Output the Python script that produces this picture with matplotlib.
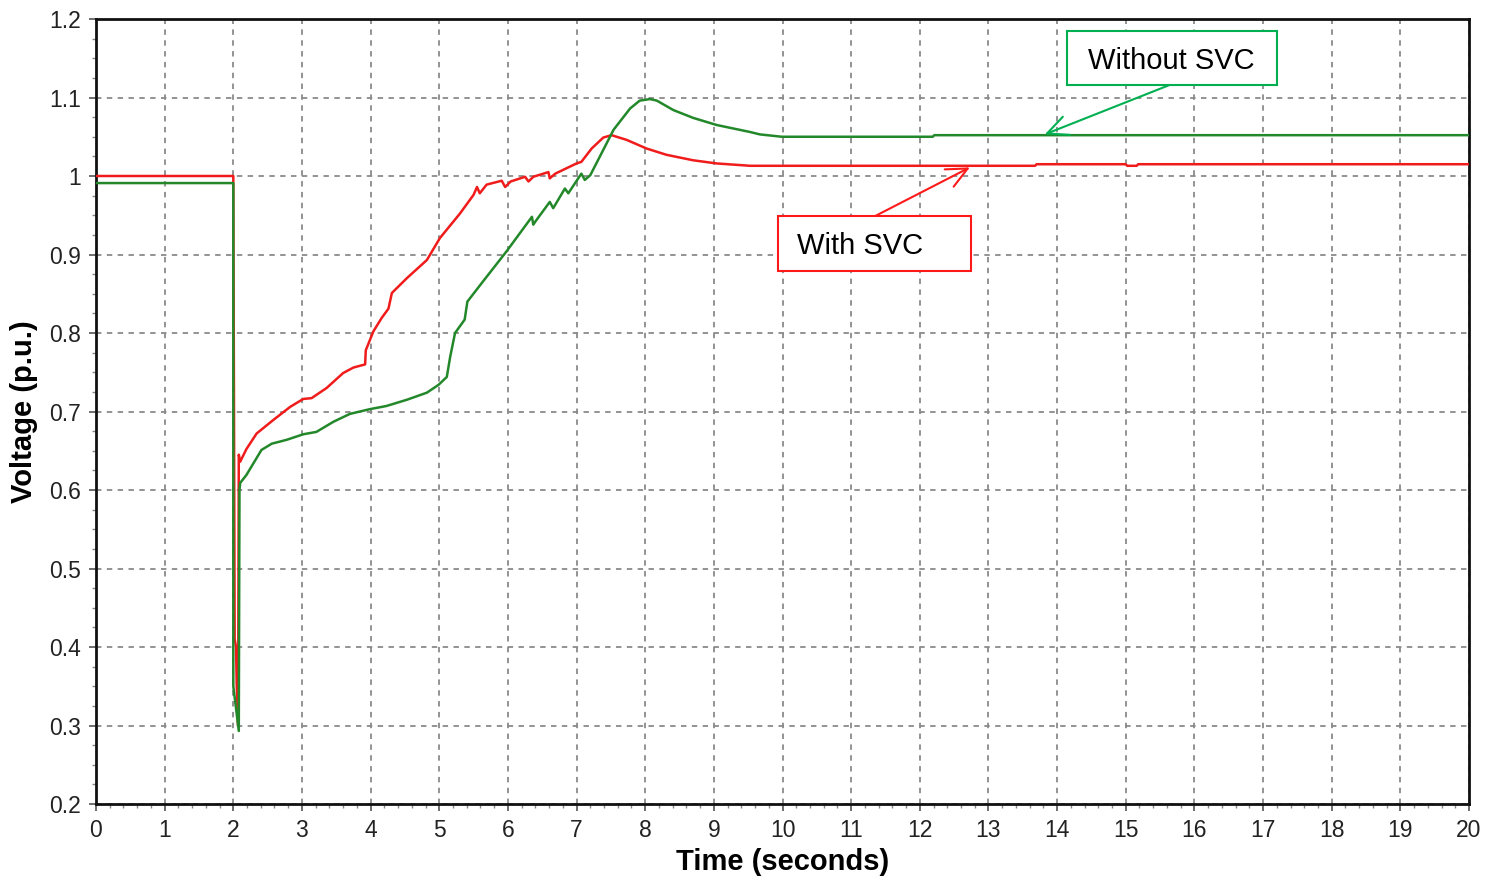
import numpy as np
import matplotlib.pyplot as plt
from matplotlib.patches import Rectangle
from matplotlib.ticker import MultipleLocator

plt.rcParams['font.family'] = ['Liberation Sans', 'DejaVu Sans']

# With SVC (red) - time in s, voltage in p.u.
t_with = [0, 2.0, 2.02, 2.04, 2.05, 2.06, 2.07, 2.08, 2.10, 2.19, 2.34, 2.58, 2.83,
          3.02, 3.14, 3.36, 3.60, 3.75, 3.92, 3.93, 4.04, 4.16, 4.26, 4.31, 4.53,
          4.82, 5.01, 5.30, 5.50, 5.55, 5.59, 5.69, 5.91, 5.96, 6.04, 6.25, 6.30,
          6.37, 6.59, 6.61, 6.69, 7.00, 7.07, 7.22, 7.39, 7.51, 7.73, 8.02, 8.31,
          8.70, 9.04, 9.53, 10.0, 13.68, 13.70, 15.0, 15.02, 15.16, 15.18, 20.0]
v_with = [1.0, 1.0, 0.41, 0.40, 0.35, 0.33, 0.30, 0.645, 0.636, 0.652, 0.672, 0.689, 0.706,
          0.716, 0.717, 0.730, 0.749, 0.756, 0.760, 0.778, 0.802, 0.819, 0.831, 0.851, 0.870,
          0.893, 0.921, 0.952, 0.976, 0.986, 0.978, 0.989, 0.994, 0.986, 0.993, 0.999, 0.993,
          0.999, 1.005, 0.997, 1.003, 1.016, 1.018, 1.035, 1.049, 1.052, 1.046, 1.035, 1.027,
          1.020, 1.016, 1.013, 1.013, 1.013, 1.015, 1.015, 1.013, 1.013, 1.015, 1.015]

# Without SVC (green)
t_without = [0, 2.0, 2.0, 2.08, 2.09, 2.10, 2.19, 2.41, 2.56, 2.78, 3.02, 3.21, 3.46,
             3.70, 3.99, 4.23, 4.53, 4.82, 4.99, 5.11, 5.16, 5.23, 5.37, 5.41, 5.64,
             5.98, 6.35, 6.37, 6.40, 6.61, 6.66, 6.83, 6.88, 7.07, 7.12, 7.20, 7.54,
             7.78, 7.92, 8.07, 8.17, 8.41, 8.70, 9.04, 9.53, 9.67, 9.99, 12.19, 12.21, 20.0]
v_without = [0.991, 0.991, 0.35, 0.293, 0.60, 0.609, 0.619, 0.651, 0.659, 0.664, 0.671, 0.674, 0.687,
             0.697, 0.703, 0.707, 0.715, 0.724, 0.734, 0.744, 0.770, 0.800, 0.817, 0.840, 0.866,
             0.904, 0.948, 0.938, 0.942, 0.967, 0.959, 0.984, 0.978, 1.003, 0.995, 1.001, 1.059,
             1.086, 1.096, 1.098, 1.096, 1.084, 1.074, 1.065, 1.056, 1.053, 1.050, 1.050, 1.052, 1.052]

fig = plt.figure(figsize=(14.92, 8.8), dpi=100)
ax = fig.add_axes([96 / 1492, 1 - 804 / 880, 1373 / 1492, 785 / 880])

ax.plot(t_with, v_with, color='#f01c1c', lw=1.8, zorder=3)
ax.plot(t_without, v_without, color='#23882a', lw=1.8, zorder=4)

ax.set_xlim(0, 20)
ax.set_ylim(0.2, 1.2)
ax.xaxis.set_major_locator(MultipleLocator(1))
ax.xaxis.set_minor_locator(MultipleLocator(0.2))
ax.yaxis.set_minor_locator(MultipleLocator(0.025))
ax.set_yticks(np.arange(0.2, 1.21, 0.1))
ax.set_yticklabels(['0.2', '0.3', '0.4', '0.5', '0.6', '0.7', '0.8', '0.9', '1', '1.1', '1.2'])

ax.grid(True, which='major', color='#8a8a8a', linestyle=(0, (3, 3)), lw=1.3)
ax.tick_params(which='major', direction='out', length=5, width=1.2, color='#555555',
               labelsize=16.5, labelcolor='#222222', pad=6)
ax.tick_params(which='minor', direction='out', length=3, width=1, color='#888888')
for s in ax.spines.values():
    s.set_color('#111111')
    s.set_linewidth(2)

ax.set_xlabel('Time (seconds)', fontsize=21, fontweight='bold', labelpad=4)
ax.set_ylabel('Voltage (p.u.)', fontsize=21, fontweight='bold', labelpad=8)

# callout boxes
ax.add_patch(Rectangle((14.14, 1.116), 3.06, 0.069, fc='white', ec='#00b050', lw=1.5, zorder=5))
ax.text(14.45, 1.147, 'Without SVC', fontsize=21, va='center', ha='left', zorder=6)
ax.add_patch(Rectangle((9.93, 0.879), 2.82, 0.070, fc='white', ec='#ff1a1a', lw=1.5, zorder=5))
ax.text(10.21, 0.911, 'With SVC', fontsize=21, va='center', ha='left', zorder=6)

ax.annotate('', xy=(13.82, 1.053), xytext=(15.64, 1.116),
            arrowprops=dict(arrowstyle='->,head_length=0.75,head_width=0.35', color='#00b050',
                            lw=1.5, shrinkA=0, shrinkB=0, mutation_scale=20), zorder=6)
ax.annotate('', xy=(12.73, 1.011), xytext=(11.35, 0.949),
            arrowprops=dict(arrowstyle='->,head_length=0.75,head_width=0.35', color='#ff1a1a',
                            lw=1.5, shrinkA=0, shrinkB=0, mutation_scale=20), zorder=6)

fig.savefig('out.png', dpi=100)
